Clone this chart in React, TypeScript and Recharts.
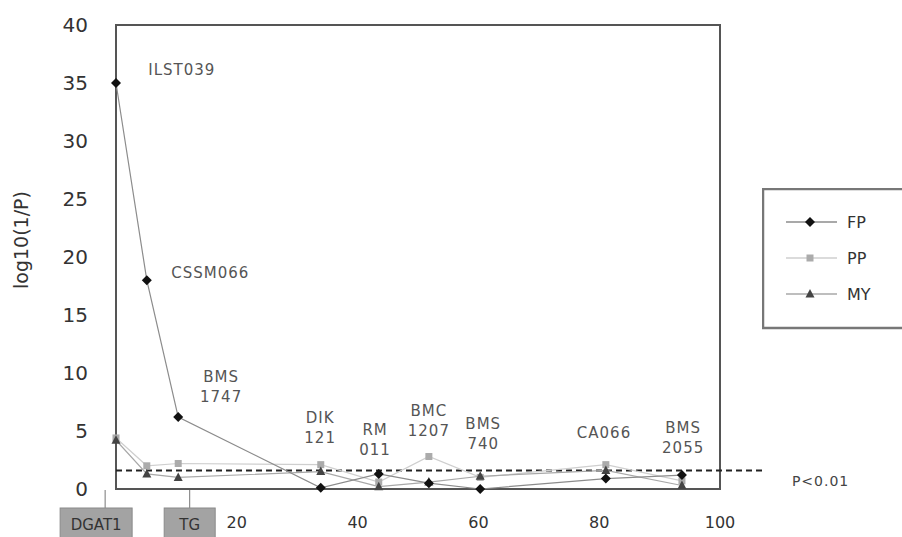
import { ComposedChart, Line, XAxis, YAxis, ReferenceLine, ReferenceDot, ReferenceArea, Legend } from "recharts";

// marker positions along the chromosome (cM) and test results per trait
const positions = [0, 5.1, 10.3, 33.9, 43.5, 51.8, 60.3, 81.1, 93.7];
const markerNames = ["ILST039", "CSSM066", "BMS\n1747", "DIK\n121", "RM\n011", "BMC\n1207", "BMS\n740", "CA066", "BMS\n2055"];
const fpValues = [35, 18, 6.2, 0.1, 1.3, 0.5, 0, 0.9, 1.2];
const ppValues = [4.4, 2.0, 2.2, 2.1, 0.6, 2.8, 1.0, 2.1, 0.7];
const myValues = [4.2, 1.3, 1.0, 1.5, 0.2, 0.6, 1.1, 1.6, 0.3];

const seriesNames = ["FP", "PP", "MY"];
const xTicks = [20, 40, 60, 80, 100];
const yTicks = [0, 5, 10, 15, 20, 25, 30, 35, 40];

const threshold = 1.6;
const thresholdLabel = "P<0.01";

const genes = ["DGAT1", "TG"];
const genePositions = [-1.8, 12.2];

// where each marker name sits, in chart units
const labelX = [10.9, 15.6, 17.4, 33.8, 42.9, 51.8, 60.8, 80.8, 93.9];
const labelY = [36.1, 18.6, 8.8, 5.3, 4.2, 5.9, 4.7, 4.8, 4.4];

const data = positions.map((pos, i) => ({
  pos,
  FP: fpValues[i],
  PP: ppValues[i],
  MY: myValues[i],
}));

const FONT = "'DejaVu Sans', Verdana, sans-serif";

const seriesStyle: Record<string, { line: string; mark: string; shape: string }> = {
  FP: { line: "#8c8c8c", mark: "#111", shape: "diamond" },
  PP: { line: "#cfcfcf", mark: "#ababab", shape: "square" },
  MY: { line: "#a8a8a8", mark: "#444", shape: "triangle" },
};

function Mark({ cx, cy, shape, fill }: { cx: number; cy: number; shape: string; fill: string }) {
  if (cx == null || cy == null) return null;
  if (shape === "diamond") {
    return <polygon points={`${cx},${cy - 5} ${cx + 5},${cy} ${cx},${cy + 5} ${cx - 5},${cy}`} fill={fill} />;
  }
  if (shape === "square") {
    return <rect x={cx - 3.5} y={cy - 3.5} width={7} height={7} fill={fill} />;
  }
  return <polygon points={`${cx},${cy - 5} ${cx + 4.5},${cy + 3.5} ${cx - 4.5},${cy + 3.5}`} fill={fill} />;
}

function dotFor(name: string) {
  const s = seriesStyle[name];
  return (p: any) => <Mark key={`${name}-${p.index}`} cx={p.cx} cy={p.cy} shape={s.shape} fill={s.mark} />;
}

function MarkerLabel({ cx, cy, text }: { cx: number; cy: number; text: string }) {
  const lines = text.split("\n");
  const lh = 20;
  const y0 = cy - ((lines.length - 1) * lh) / 2;
  return (
    <text x={cx} y={y0} textAnchor="middle" dominantBaseline="central" fontSize={15} letterSpacing={1} fill="#555" fontFamily={FONT}>
      {lines.map((l, i) => (
        <tspan key={i} x={cx} y={y0 + i * lh}>
          {l}
        </tspan>
      ))}
    </text>
  );
}

function GeneBox({ cx, cy, name, i }: { cx: number; cy: number; name: string; i: number }) {
  const w = name.length * 7 + 37;
  const shift = i === 0 ? -9 : 0;
  const left = cx - w / 2 + shift;
  return (
    <g>
      <line x1={cx} y1={cy + 1} x2={cx} y2={cy + 19} stroke="#777" strokeWidth={1} />
      <rect x={left} y={cy + 19} width={w} height={32} fill="#a3a3a3" stroke="#8a8a8a" />
      <text x={left + w / 2} y={cy + 36} textAnchor="middle" dominantBaseline="central" fontSize={15} fill="#333" fontFamily={FONT}>
        {name}
      </text>
    </g>
  );
}

function LegendBox({ payload }: any) {
  const items = seriesNames.filter((n) => (payload || []).some((e: any) => e.value === n));
  return (
    <svg width={145} height={142} style={{ display: "block" }}>
      <rect x={1} y={1} width={150} height={139} fill="#fff" stroke="#777" strokeWidth={2.5} />
      {items.map((n, i) => {
        const y = 34 + i * 36;
        const s = seriesStyle[n];
        return (
          <g key={n}>
            <line x1={24} y1={y} x2={75} y2={y} stroke={s.line} strokeWidth={1.5} />
            <Mark cx={48} cy={y} shape={s.shape} fill={s.mark} />
            <text x={85} y={y} dominantBaseline="central" fontSize={16} fill="#333" fontFamily={FONT}>
              {n}
            </text>
          </g>
        );
      })}
    </svg>
  );
}

export default function App() {
  return (
    <div style={{ position: "absolute", left: 0, top: 0, width: 902, height: 537, background: "#fff" }}>
      <ComposedChart width={902} height={537} data={data} margin={{ top: 25, right: 182, bottom: 18, left: 0 }}>
        <XAxis
          dataKey="pos"
          type="number"
          domain={[0, 100]}
          ticks={xTicks}
          axisLine={false}
          tickLine={false}
          tickMargin={22}
          tick={{ fontSize: 16, fill: "#333", fontFamily: FONT }}
        />
        <YAxis
          type="number"
          domain={[0, 40]}
          ticks={yTicks}
          width={116}
          axisLine={false}
          tickLine={false}
          tickMargin={22}
          tick={{ fontSize: 20, fill: "#333", fontFamily: FONT }}
          label={({ viewBox }: any) => {
            const cy = viewBox.y + viewBox.height / 2 - 17;
            return (
              <text
                x={21}
                y={cy}
                transform={`rotate(-90 21 ${cy})`}
                textAnchor="middle"
                dominantBaseline="central"
                fontSize={19}
                fill="#333"
                fontFamily={FONT}
              >
                log10(1/P)
              </text>
            );
          }}
        />
        <ReferenceArea x1={0} x2={100} y1={0} y2={40} fill="none" stroke="#555" strokeWidth={2} />
        <ReferenceLine
          segment={[{ x: 0, y: threshold }, { x: 107.5, y: threshold }]}
          ifOverflow="visible"
          stroke="#222"
          strokeWidth={2}
          strokeDasharray="6 4"
        />
        <ReferenceDot
          x={111.9}
          y={0.7}
          ifOverflow="visible"
          shape={(p: any) => (
            <text x={p.cx} y={p.cy} dominantBaseline="central" fontSize={14} letterSpacing={1} fill="#444" fontFamily={FONT}>
              {thresholdLabel}
            </text>
          )}
        />
        {markerNames.map((name, i) => (
          <ReferenceDot
            key={name}
            x={labelX[i]}
            y={labelY[i]}
            ifOverflow="visible"
            shape={(p: any) => <MarkerLabel cx={p.cx} cy={p.cy} text={name} />}
          />
        ))}
        {genes.map((g, i) => (
          <ReferenceDot
            key={g}
            x={genePositions[i]}
            y={0}
            ifOverflow="visible"
            shape={(p: any) => <GeneBox cx={p.cx} cy={p.cy} name={g} i={i} />}
          />
        ))}
        <Line type="linear" dataKey="PP" name="PP" stroke={seriesStyle.PP.line} strokeWidth={1.2} dot={dotFor("PP")} activeDot={false} isAnimationActive={false} />
        <Line type="linear" dataKey="MY" name="MY" stroke={seriesStyle.MY.line} strokeWidth={1.2} dot={dotFor("MY")} activeDot={false} isAnimationActive={false} />
        <Line type="linear" dataKey="FP" name="FP" stroke={seriesStyle.FP.line} strokeWidth={1.2} dot={dotFor("FP")} activeDot={false} isAnimationActive={false} />
        <Legend
          layout="horizontal"
          align="center"
          verticalAlign="middle"
          content={<LegendBox />}
          wrapperStyle={{ left: 762, top: 188, width: 145, height: 142 }}
        />
      </ComposedChart>
    </div>
  );
}
